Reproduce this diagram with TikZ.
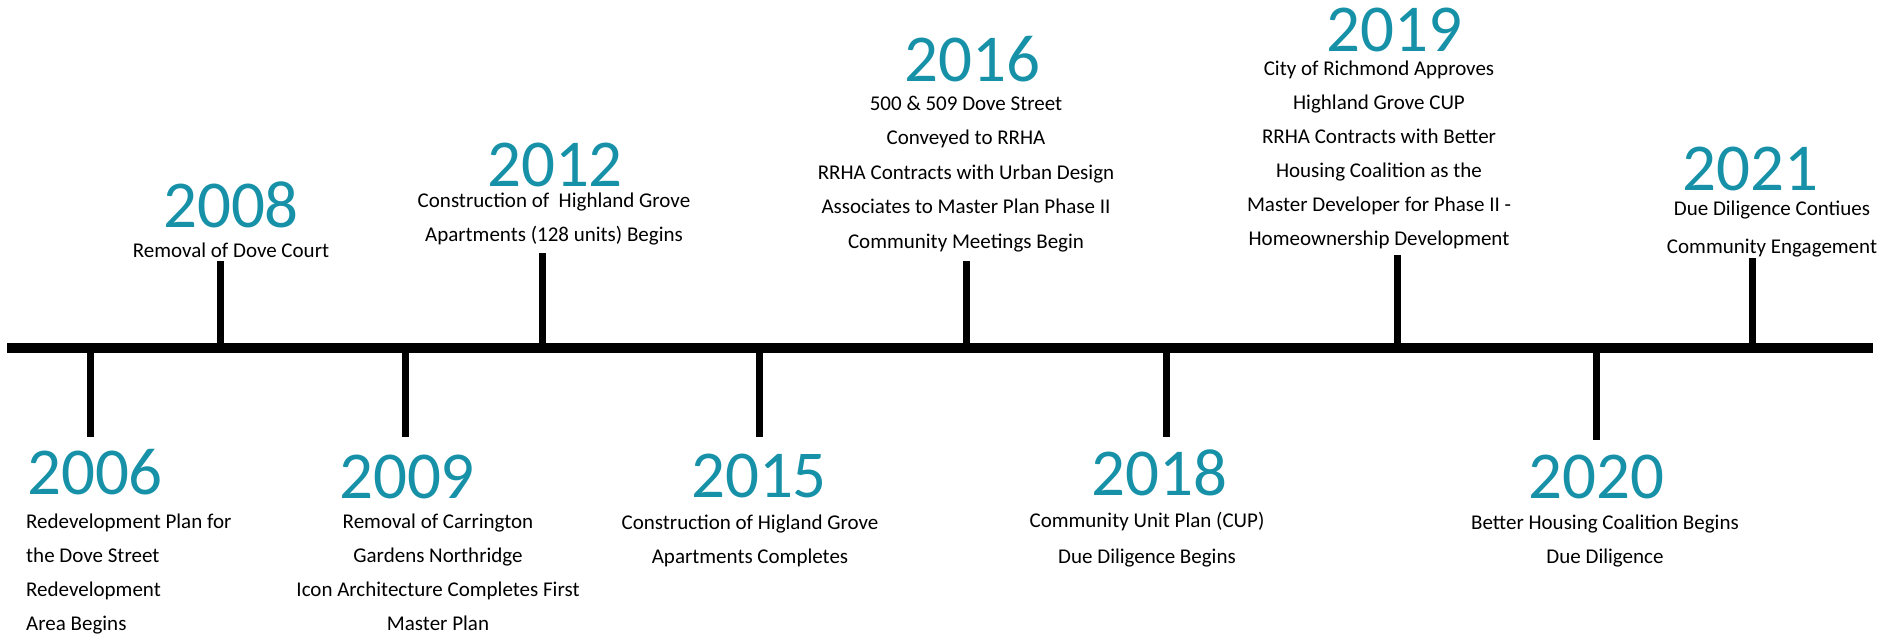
\documentclass[tikz,border=0pt]{standalone}
\usepackage{fontspec}
\setmainfont{Carlito}
\definecolor{yearteal}{RGB}{22,145,167}
\tikzset{
  yr/.style={font=\fontsize{67}{67}\selectfont, text=yearteal, inner sep=0pt, anchor=base},
  desc/.style={font=\fontsize{21}{34}\selectfont, inner sep=0pt, anchor=base, align=center},
  descl/.style={desc, align=left, anchor=base west},
  axisline/.style={line width=10pt},
  tickline/.style={line width=7pt},
}
\begin{document}
\begin{tikzpicture}[x=1pt,y=-1pt]
\useasboundingbox (0,0) rectangle (1877,637);
% axis
\coordinate (L) at (7,348);
\coordinate (R) at (1873,348);
\draw[axisline] (L) -- (R);
% tick coordinates on axis and ends
\foreach \n/\x/\y in {a06/90/437, a08/220/261, a09/405/437, a12/542/253, a15/759/437, a16/966/261, a18/1166/437, a19/1397/255, a20/1596/440, a21/1752/258}{
  \coordinate (\n b) at (\x,348);
  \coordinate (\n e) at (\x,\y);
}
\foreach \n in {a06,a08,a09,a12,a15,a16,a18,a19,a20,a21}{
  \draw[tickline] (\n b) -- (\n e);
}
% years
\node[yr] (y06) at (95,494) {2006};
\node[yr] (y08) at (231,227) {2008};
\node[yr] (y09) at (407,498) {2009};
\node[yr] (y12) at (555,186) {2012};
\node[yr] (y15) at (759,497) {2015};
\node[yr] (y16) at (972,81) {2016};
\node[yr] (y18) at (1159,495) {2018};
\node[yr] (y19) at (1394,51) {2019};
\node[yr] (y20) at (1596,498) {2020};
\node[yr] (y21) at (1750,190) {2021};
% descriptions (anchor = baseline of last line)
\node[descl] (d06) at (26,630) {Redevelopment Plan for\\the Dove Street\\Redevelopment\\Area Begins};
\node[desc] (d08) at (231,257) {Removal of Dove Court};
\node[desc] (d09) at (438,630) {Removal of Carrington\\Gardens Northridge\\Icon Architecture Completes First\\Master Plan};
\node[desc] (d12) at (554,241) {Construction of \ Highland Grove\\Apartments (128 units) Begins};
\node[desc] (d15) at (750,563) {Construction of Higland Grove\\Apartments Completes};
\node[desc, font=\fontsize{21}{34.5}\selectfont] (d16) at (966,248) {500 \& 509 Dove Street\\Conveyed to RRHA\\RRHA Contracts with Urban Design\\Associates to Master Plan Phase II\\Community Meetings Begin};
\node[desc, font=\fontsize{21}{36}\selectfont] (d18) at (1147,563) {Community Unit Plan (CUP)\\Due Diligence Begins};
\node[desc] (d19) at (1379,245) {City of Richmond Approves\\Highland Grove CUP\\RRHA Contracts with Better\\Housing Coalition as the\\Master Developer for Phase II -\\Homeownership Development};
\node[desc] (d20) at (1605,563) {Better Housing Coalition Begins\\Due Diligence};
\node[desc, font=\fontsize{21}{38}\selectfont] (d21) at (1772,253) {Due Diligence Contiues\\Community Engagement};
\end{tikzpicture}
\end{document}
